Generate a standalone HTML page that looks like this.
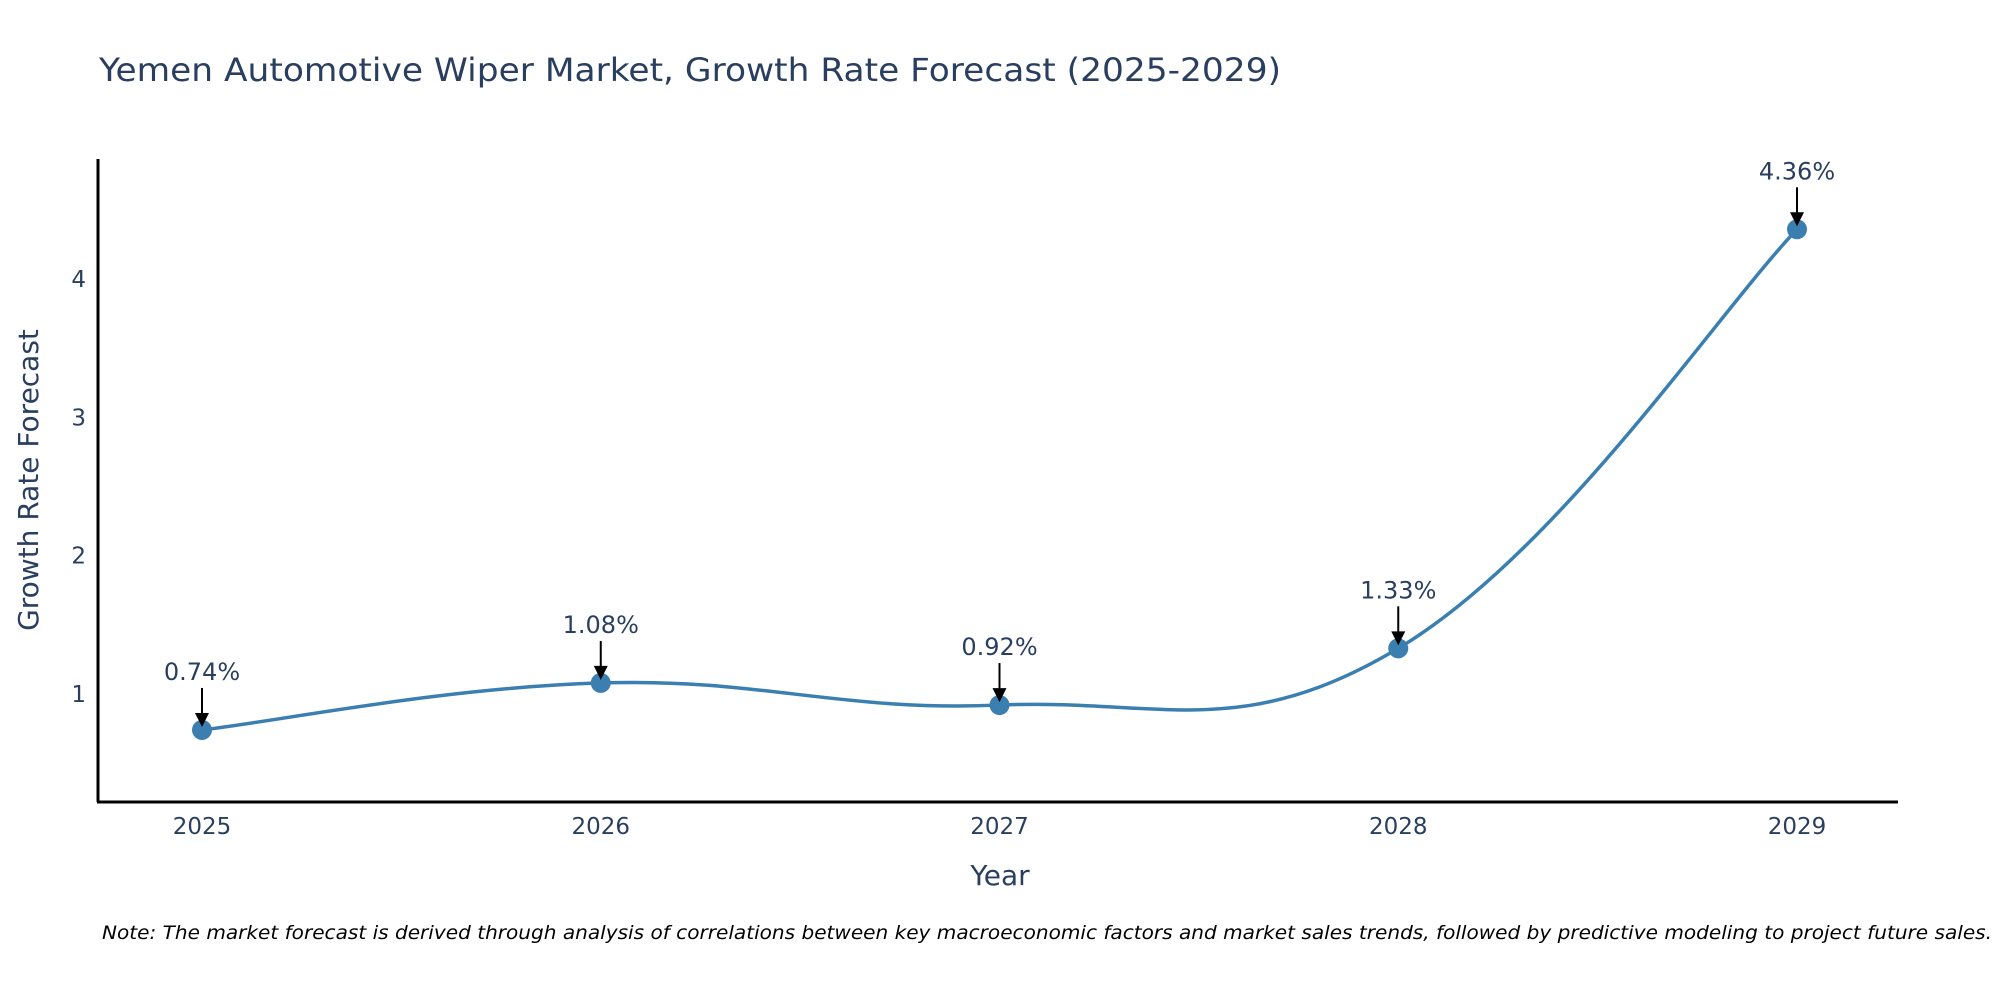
<!DOCTYPE html>
<html><head><meta charset="utf-8"><style>
html,body{margin:0;padding:0;background:#fff;}
svg{display:block;font-family:"DejaVu Sans","Liberation Sans",sans-serif;}
</style></head><body>
<svg id="chart" width="2000" height="1000" viewBox="0 0 2000 1000" xmlns="http://www.w3.org/2000/svg">
<text x="99" y="81" font-size="32" fill="#2a3f5f" textLength="1182" lengthAdjust="spacingAndGlyphs">Yemen Automotive Wiper Market, Growth Rate Forecast (2025-2029)</text>
<g id="yticks"></g>
<g id="xticks"></g>
<g id="plot"></g>
<line x1="98" y1="159" x2="98" y2="802" stroke="#000" stroke-width="3"/>
<line x1="97" y1="802" x2="1898" y2="802" stroke="#000" stroke-width="3"/>
<text x="1000" y="885" font-size="28" fill="#2a3f5f" text-anchor="middle">Year</text>
<text transform="translate(38,480) rotate(-90)" font-size="28" fill="#2a3f5f" text-anchor="middle">Growth Rate Forecast</text>
<text x="102" y="939" font-size="19" font-style="italic" fill="#000" textLength="1890" lengthAdjust="spacingAndGlyphs">Note: The market forecast is derived through analysis of correlations between key macroeconomic factors and market sales trends, followed by predictive modeling to project future sales.</text>
</svg>
<script>
const years = ['2025','2026','2027','2028','2029'];
const growth = [0.74, 1.08, 0.92, 1.33, 4.36];
const labels = ['0.74%','1.08%','0.92%','1.33%','4.36%'];
const yTickValues = [1,2,3,4];

const NS='http://www.w3.org/2000/svg';
function xPos(i){return 202 + i*398.75;}
function yPos(v){return 694 - (v-1)*138.3;}
function mk(tag,attrs,parent){const e=document.createElementNS(NS,tag);for(const k in attrs)e.setAttribute(k,attrs[k]);parent.appendChild(e);return e;}

const yt=document.getElementById('yticks');
yTickValues.forEach(v=>{
  const t=mk('text',{x:86,y:yPos(v)+8,'font-size':23,fill:'#2a3f5f','text-anchor':'end'},yt);
  
  
  t.textContent=v;
});
const xt=document.getElementById('xticks');
years.forEach((y,i)=>{
  const t=mk('text',{x:xPos(i),y:834,'font-size':23,fill:'#2a3f5f','text-anchor':'middle'},xt);
  
  
  t.textContent=y;
});

const plot=document.getElementById('plot');
const pts=growth.map((v,i)=>[xPos(i),yPos(v)]);
let d='M'+pts[0][0]+','+pts[0][1];
const s=0.2;
for(let i=0;i<pts.length-1;i++){
  const p0=pts[Math.max(i-1,0)],p1=pts[i],p2=pts[i+1],p3=pts[Math.min(i+2,pts.length-1)];
  const c1=[p1[0]+(p2[0]-p0[0])*s,p1[1]+(p2[1]-p0[1])*s];
  const c2=[p2[0]-(p3[0]-p1[0])*s,p2[1]-(p3[1]-p1[1])*s];
  d+=' C'+c1[0]+','+c1[1]+' '+c2[0]+','+c2[1]+' '+p2[0]+','+p2[1];
}
const line=mk('path',{d:d,fill:'none',stroke:'#3a7fb0','stroke-width':3.5},plot);



pts.forEach((p,i)=>{
  const c=mk('circle',{cx:p[0],cy:p[1],r:10,fill:'#3a7fb0'},plot);
  
  
  const ln=mk('line',{x1:p[0],y1:p[1]-42,x2:p[0],y2:p[1]-14,stroke:'#000','stroke-width':2},plot);
  
  
  const hd=mk('polygon',{points:(p[0]-7)+','+(p[1]-17)+' '+(p[0]+7)+','+(p[1]-17)+' '+p[0]+','+(p[1]-3),fill:'#000'},plot);
  
  
  const t=mk('text',{x:p[0],y:p[1]-50,'font-size':24,fill:'#2a3f5f','text-anchor':'middle'},plot);
  
  
  t.textContent=labels[i];
});
</script>
</body></html>
